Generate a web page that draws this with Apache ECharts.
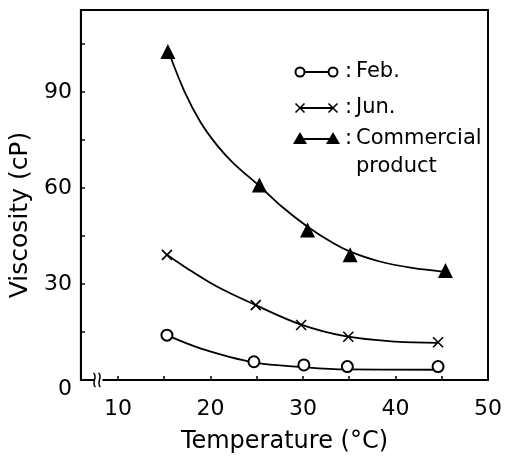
<!DOCTYPE html>
<html>
<head>
<meta charset="utf-8">
<script src="https://cdn.jsdelivr.net/npm/echarts@6/dist/echarts.min.js"></script>
<style>
  html, body { margin: 0; padding: 0; background: #fff; }
  #main { width: 505px; height: 459px; }
</style>
</head>
<body>
<div id="main"></div>
<script>
const febTemp = [15.3, 24.7, 30.1, 34.8, 44.6];
const febVisc = [14.0, 5.7, 4.7, 4.2, 4.2];
const junTemp = [15.3, 24.9, 29.8, 34.9, 44.6];
const junVisc = [39.1, 23.4, 17.2, 13.5, 11.8];
const comTemp = [15.4, 25.3, 30.5, 35.1, 45.4];
const comVisc = [102.6, 60.9, 46.9, 39.1, 34.2];

// fitted curves, also
const febCurveT = [15.3, 18.9, 24.7, 30.2, 34.7, 44.6];
const febCurveV = [14.0, 9.9, 5.5, 4.0, 3.3, 3.2];
const junCurveT = [15.3, 17.2, 20.7, 24.9, 29.8, 34.7, 40.0, 44.6];
const junCurveV = [39.1, 35.4, 29.2, 23.4, 17.3, 13.6, 12.0, 11.6];
const comCurveT = [15.6, 17.2, 18.9, 20.7, 22.5, 25.3, 27.7, 30.5, 33.3, 35.1, 38.2, 41.8, 45.3];
const comCurveV = [101.6, 90.1, 80.7, 73.4, 67.7, 60.6, 54.2, 47.9, 42.7, 40.1, 37.1, 35.0, 33.8];

const xLabels = [10, 20, 30, 40, 50];
const xTicks = [10, 15, 20, 25, 30, 35, 40, 45];
const yLabels = [0, 30, 60, 90];
const yTicks = [0, 15, 30, 45, 60, 75, 90, 105];

const font = 'DejaVu Sans';
const pair = (xs, ys) => xs.map((x, i) => [x, ys[i]]);

let chart = echarts.init(document.getElementById('main'));

const curve = (name, xs, ys) => ({
    name: name,
    type: 'line',
    data: pair(xs, ys),
    smooth: 0.35,
    symbol: 'none',
    lineStyle: { color: '#000', width: 1.8 },
    z: 2
});

chart.setOption({
    animation: false,
    textStyle: { fontFamily: font, color: '#000' },
    grid: {
        left: 77, right: 9, top: 10, bottom: 79,
        show: true, borderColor: '#000', borderWidth: 2
    },
    xAxis: {
        type: 'value',
        min: 6, max: 50,
        name: 'Temperature (°C)',
        nameLocation: 'middle',
        nameGap: 50,
        nameTextStyle: { fontSize: 24, color: '#000', fontFamily: font },
        axisLine: { show: false },
        axisTick: { inside: true, length: 4, customValues: xTicks, lineStyle: { color: '#000', width: 1.5 } },
        axisLabel: { customValues: xLabels, fontSize: 22, color: '#000', margin: 18, fontFamily: font },
        splitLine: { show: false }
    },
    yAxis: {
        type: 'value',
        min: 0, max: 115.6,
        name: 'Viscosity (cP)',
        nameLocation: 'middle',
        nameGap: 46,
        nameTextStyle: { fontSize: 25, color: '#000', fontFamily: font, padding: [0, 40, 0, 0] },
        axisLine: { show: true, lineStyle: { color: '#000', width: 2 } },
        axisTick: { inside: true, length: 4, customValues: yTicks, lineStyle: { color: '#000', width: 1.5 } },
        axisLabel: {
            customValues: yLabels, fontSize: 22, color: '#000', margin: 9, fontFamily: font,
            formatter: v => v === 0 ? '{z|0}' : String(v),
            rich: { z: { fontSize: 22, fontFamily: font, color: '#000', padding: [18, 0, 0, 0] } }
        },
        splitLine: { show: false }
    },
    series: [
        curve('Feb. fit', febCurveT, febCurveV),
        curve('Jun. fit', junCurveT, junCurveV),
        curve('Commercial fit', comCurveT, comCurveV),
        {
            name: 'Feb.',
            type: 'scatter',
            data: pair(febTemp, febVisc),
            symbol: 'circle',
            symbolSize: 11,
            itemStyle: { color: '#fff', borderColor: '#000', borderWidth: 2, opacity: 1 },
            z: 3
        },
        {
            name: 'Jun.',
            type: 'scatter',
            data: pair(junTemp, junVisc),
            symbol: 'path://M0,0L10,10M10,0L0,10',
            symbolSize: 10,
            itemStyle: { color: '#000', borderColor: '#000', borderWidth: 1.6, opacity: 1 },
            z: 3
        },
        {
            name: 'Commercial product',
            type: 'scatter',
            data: pair(comTemp, comVisc),
            symbol: 'triangle',
            symbolSize: 15,
            itemStyle: { color: '#000', opacity: 1 },
            z: 3
        }
    ]
});

// legend drawn by hand: marker — marker : label
function legendRow(y, kind, text) {
    const els = [];
    const x1 = 300, x2 = 333;
    els.push({ type: 'line', shape: { x1: x1, y1: y, x2: x2, y2: y }, style: { stroke: '#000', lineWidth: 2 } });
    [x1, x2].forEach(x => {
        if (kind === 'circle') {
            els.push({ type: 'circle', shape: { cx: x, cy: y, r: 4.5 }, style: { fill: '#fff', stroke: '#000', lineWidth: 2 } });
        } else if (kind === 'cross') {
            els.push({ type: 'polyline', shape: { points: [[x - 4.5, y - 4.5], [x + 4.5, y + 4.5]] }, style: { stroke: '#000', lineWidth: 1.6 } });
            els.push({ type: 'polyline', shape: { points: [[x - 4.5, y + 4.5], [x + 4.5, y - 4.5]] }, style: { stroke: '#000', lineWidth: 1.6 } });
        } else {
            els.push({ type: 'polygon', shape: { points: [[x, y - 7], [x + 7, y + 5], [x - 7, y + 5]] }, style: { fill: '#000' } });
        }
    });
    els.push({ type: 'text', x: 345, y: y, style: { text: ':', font: '21px "' + font + '"', fill: '#000', verticalAlign: 'middle' } });
    els.push({ type: 'text', x: 356, y: y - 14, style: { text: text, font: '21px "' + font + '"', fill: '#000', verticalAlign: 'top', lineHeight: 28 } });
    return els;
}

// axis break on the x axis near the origin
const p0 = chart.convertToPixel({ gridIndex: 0 }, [6, 0]);
const pb = chart.convertToPixel({ gridIndex: 0 }, [7.9, 0]);
const by = p0[1];
const bx = pb[0];
const breakEls = [
    { type: 'rect', shape: { x: bx - 4, y: by - 3, width: 8, height: 6 }, style: { fill: '#fff' }, z: 10 },
    { type: 'bezierCurve', shape: { x1: bx - 5, y1: by - 7, x2: bx - 3, y2: by + 7, cpx1: bx, cpy1: by - 3, cpx2: bx - 8, cpy2: by + 3 }, style: { stroke: '#000', lineWidth: 1.5, fill: null }, z: 11 },
    { type: 'bezierCurve', shape: { x1: bx, y1: by - 7, x2: bx + 2, y2: by + 7, cpx1: bx + 5, cpy1: by - 3, cpx2: bx - 3, cpy2: by + 3 }, style: { stroke: '#000', lineWidth: 1.5, fill: null }, z: 11 }
];

chart.setOption({
    graphic: [].concat(
        legendRow(72, 'circle', 'Feb.'),
        legendRow(108, 'cross', 'Jun.'),
        legendRow(139, 'tri', 'Commercial\nproduct'),
        breakEls
    )
});
</script>
</body>
</html>
